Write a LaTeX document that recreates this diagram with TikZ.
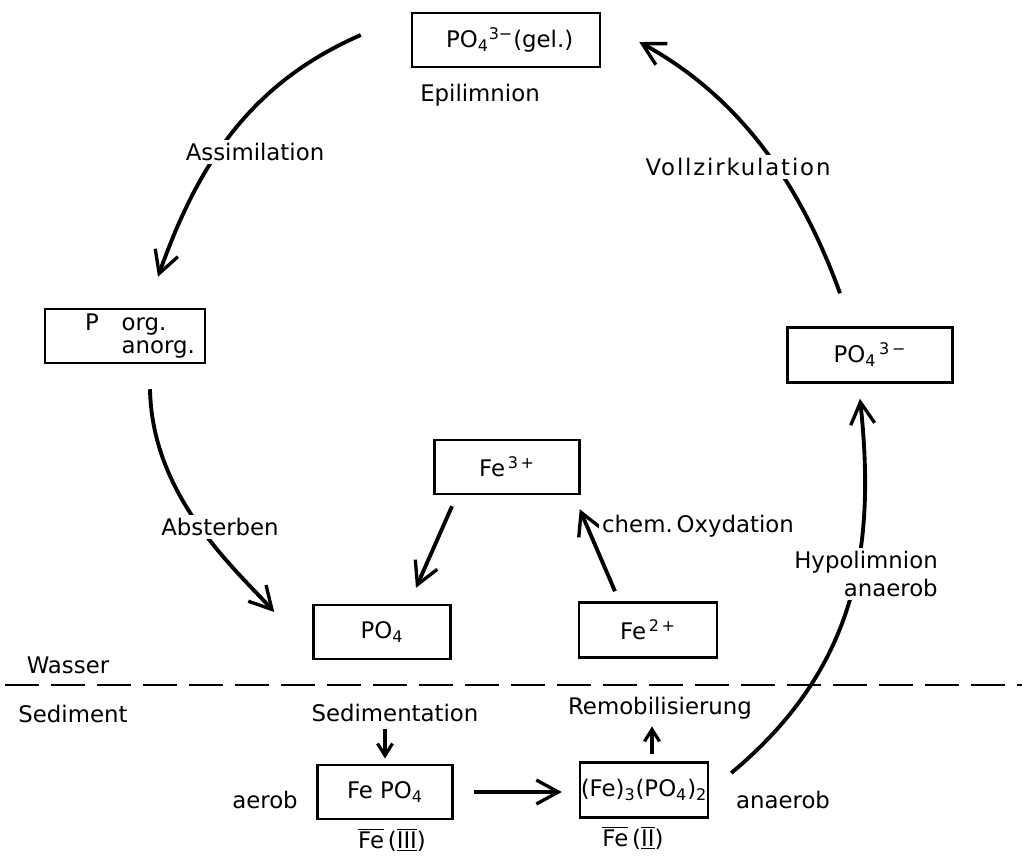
\documentclass[tikz,border=0pt]{standalone}
\usepackage{fontspec}
\setmainfont{DejaVu Sans}
\usepackage{tikz}
\usetikzlibrary{arrows.meta}
\tikzset{
  pbox/.style={draw, line width=1.4pt, inner sep=0pt, minimum height=1.08cm},
  lbl/.style={fill=white, inner sep=2pt},
  cycle/.style={line width=2.2pt, -{Straight Barb[length=0.44cm, width=0.48cm, line width=1.9pt]}},
  short/.style={line width=2pt, -{Straight Barb[length=0.24cm, width=0.3cm, line width=1.8pt]}},
  border/.style={line width=1.3pt, dash pattern=on 0.68cm off 0.24cm}
}

\begin{document}
\begin{tikzpicture}[x=0.02cm, y=-0.02cm, font=\fontsize{13}{15.5}\selectfont]
  \useasboundingbox (0,0) rectangle (1022,856);

  \node[pbox, minimum width=3.76cm] (epi) at (506,40) {\ PO\textsubscript{4}\textsuperscript{3−}(gel.)};
  \node[pbox, minimum width=3.2cm, align=left] (porg) at (125,336) {\hspace*{0.6cm}P\quad org.\\[-2pt]\hspace*{0.6cm}\phantom{P\quad}anorg.};
  \node[pbox, minimum width=2.9cm] (fe3) at (507,467) {Fe\textsuperscript{\,3\,+}};
  \node[pbox, minimum width=2.74cm] (pomid) at (382,632) {PO\textsubscript{4}};
  \node[pbox, minimum width=2.76cm, minimum height=1.1cm] (fe2) at (648,630) {Fe\textsuperscript{\,2\,+}};
  \node[pbox, minimum width=3.3cm, minimum height=1.1cm] (phyp) at (870,355) {PO\textsubscript{4}\textsuperscript{\,3\,−}};
  \node[pbox, minimum width=2.7cm] (fepo) at (385,792) {Fe PO\textsubscript{4}};
  \node[pbox, minimum width=2.56cm, minimum height=1.1cm] (feph) at (644,790) {(Fe)\textsubscript{3}(PO\textsubscript{4})\textsubscript{2}};

  \draw[cycle] ([shift={(-50,-5)}]epi.west) .. controls +(-110,48) and +(40,-113) .. ([shift={(33,-31)}]porg.north);
  \draw[cycle] ([shift={(25,25)}]porg.south) .. controls +(2,107) and +(-40,-44) .. ([shift={(-38,-20)}]pomid.west);
  \draw[cycle] ([shift={(22,-17)}]feph.east) .. controls +(130,-108) and +(15,142) .. ([shift={(-10,15)}]phyp.south);
  \draw[cycle] ([shift={(-30,-33)}]phyp.north) .. controls +(-39,-108) and +(101,55) .. ([shift={(38,2)}]epi.east);
  \draw[cycle] ([shift={(-55,11)}]fe3.south) -- ([shift={(34,-16)}]pomid.north);
  \draw[cycle] ([shift={(-33,-10)}]fe2.north) -- ([shift={(-1,14)}]fe3.south east);
  \draw[cycle, shorten <=0.4cm, shorten >=0.34cm] (fepo.east) -- (fepo.east -| feph.west);

  \draw[border] (5,685) -- (1022,685);

  \node[lbl] (epilbl) at (480,95) {Epilimnion};
  \node[lbl] (assim) at (255,152) {Assimilation};
  \node[lbl] (vollz) at (738,167) {\addfontfeature{LetterSpace=8}Vollzirkulation};
  \node[lbl] (abst) at (220,527) {Absterben};
  \node[lbl] (oxyd) at (698,526) {chem.\,Oxydation};
  \node[lbl, align=right] (hypo) at (866,574) {Hypolimnion\\anaerob};
  \node[lbl] (wasser) at (68,665) {Wasser};
  \node[lbl] (sedim) at (73,714) {Sediment};
  \node[lbl] (sedi) at (395,713) {Sedimentation};
  \node[lbl] (remob) at (660,708) {Remobilisierung};
  \node[lbl] (aer) at (265,800) {aerob};
  \node[lbl] (anaer) at (783,800) {anaerob};
  \node (fe3lbl) at (392,840) {$\overline{\hbox{Fe}}$\,($\underline{\overline{\hbox{III}}}$)};
  \node (fe2lbl) at (633,838) {$\overline{\hbox{Fe}}$\,($\underline{\overline{\hbox{II}}}$)};

  \draw[short, shorten <=2pt, shorten >=3pt] (sedi.south -| fepo.north) -- (fepo.north);
  \draw[short, shorten <=4pt, shorten >=2pt] ([xshift=0.16cm]feph.north) -- ([xshift=0.16cm]feph.north |- remob.south);
\end{tikzpicture}
\end{document}
